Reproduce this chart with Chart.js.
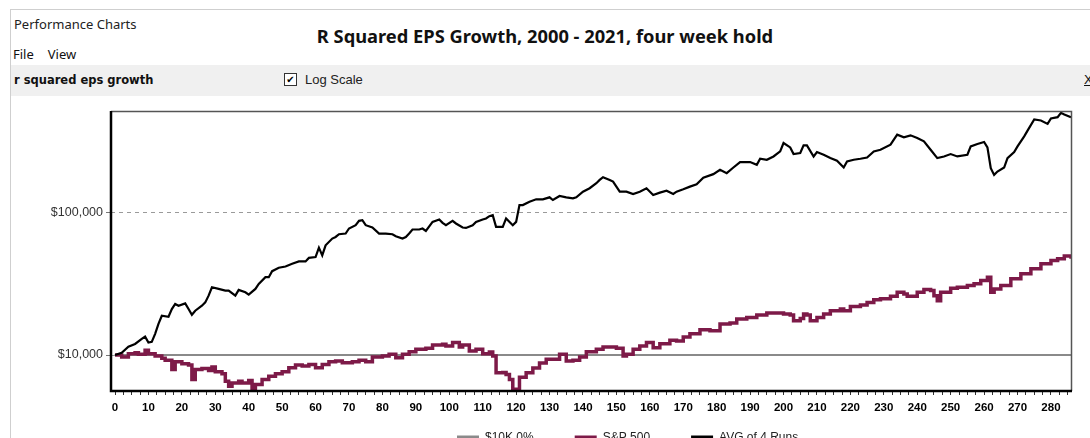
<!DOCTYPE html>
<html><head><meta charset="utf-8">
<script src="https://cdn.jsdelivr.net/npm/chart.js@4.4.0/dist/chart.umd.min.js"></script>
<style>
html,body{margin:0;padding:0;width:1090px;height:438px;overflow:hidden;background:#fff;}
#frameTop{position:absolute;left:10px;top:9px;width:1080px;height:1px;background:#cfcfcf;}
#frameLeft{position:absolute;left:10px;top:9px;width:1px;height:429px;background:#cfcfcf;}
#appTitle{position:absolute;left:14px;top:15px;font:13px "Noto Sans",sans-serif;color:#222;}
#menu{position:absolute;left:13px;top:45px;font:13px "Noto Sans",sans-serif;color:#111;}
#menu span{margin-right:14px;}
#chartTitle{position:absolute;left:0;width:1090px;text-align:center;top:23px;font:bold 18.3px "Noto Sans",sans-serif;color:#111;}
#toolbar{position:absolute;left:11px;top:65px;width:1079px;height:31px;background:#f0f0f0;}
#seriesName{position:absolute;left:3px;top:8px;font:bold 11.5px "DejaVu Sans",sans-serif;color:#111;}
#check{position:absolute;left:273px;top:8px;width:11px;height:11px;border:1px solid #333;background:#fff;font:bold 10px/11px "DejaVu Sans",sans-serif;text-align:center;color:#000;}
#logLabel{position:absolute;left:294px;top:7px;font:13px "Liberation Sans",Arial,sans-serif;color:#222;}
#closeX{position:absolute;left:1073px;top:7px;font:13px "Liberation Sans",Arial,sans-serif;text-decoration:underline;color:#111;}
#wrap{position:absolute;left:0;top:100px;width:1090px;height:384px;}
</style></head>
<body>
<div id="frameTop"></div><div id="frameLeft"></div>
<div id="appTitle">Performance Charts</div>
<div id="menu"><span>File</span><span>View</span></div>
<div id="chartTitle">R Squared EPS Growth, 2000 - 2021, four week hold</div>
<div id="toolbar">
  <div id="seriesName">r squared eps growth</div>
  <div id="check">✔</div>
  <div id="logLabel">Log Scale</div>
  <div id="closeX">X</div>
</div>
<div id="wrap"><canvas id="c" width="1090" height="384"></canvas></div>
<script>
// ---- data (4-week periods) ----
const seriesLabels = ['$10K 0%', 'S&P 500', 'AVG of 4 Runs'];

const basePeriods = [0, 286];
const baseValues  = [10000, 10000];

const avgPeriods = [0,2,4,6,8,9,10,11,12,13,14,16,17,18,19,21,22,23,24,26,27,28,29,31,33,34,36,37,39,40,42,43,45,46,47,49,51,53,55,57,58,60,61,62,63,65,66,67,69,70,72,73,74,75,77,79,81,83,84,86,87,88,89,91,92,93,95,97,98,99,101,102,104,105,107,108,110,111,112,113,114,116,117,119,120,121,122,124,126,128,130,131,133,135,137,138,140,142,144,145,146,148,149,151,153,155,157,159,161,163,165,167,168,170,172,174,176,179,181,183,185,187,190,192,193,195,197,199,200,202,203,205,206,207,209,210,212,214,216,218,219,221,223,225,227,229,232,234,236,238,240,242,244,246,248,250,252,255,256,258,260,261,262,263,264,266,267,269,270,272,273,275,277,279,280,282,283,284,286];
const avgValues = [10000,10380,11440,11950,12960,13450,12210,12350,14060,16530,18830,18520,20980,22750,22130,22980,20980,19130,20410,22130,23350,26030,29780,29020,28230,28230,26030,28550,27460,26460,29020,31470,35030,35030,38600,40790,41660,43520,45180,45180,47820,48440,56410,49800,58550,65270,66990,69990,70790,76790,81000,86850,87850,81000,78050,70790,70790,69990,67760,65270,66990,70790,75550,75550,76790,73840,85460,88850,84070,81000,86850,83260,78050,77530,81000,85460,88850,90300,93720,95260,78800,78800,90300,81000,85460,112000,112000,118200,122900,122900,126900,121500,129600,126900,124900,126900,139000,146900,159300,168000,175500,168000,163500,139000,139000,133900,139000,146900,131800,136800,141300,133900,139000,144500,150800,156700,174400,184400,197600,187300,205100,223900,223900,214300,236200,232400,245200,265900,304600,283700,254800,259000,293100,293100,245200,263300,252000,238900,228700,205100,226100,232400,236200,241200,265900,273400,296400,348500,333600,344500,330400,312600,273400,238900,245200,254800,245200,252000,288400,299900,309600,283700,203100,182200,192200,205100,238900,263300,288400,339200,371900,444600,437400,414500,451900,461500,495500,482000,461500];

const spPeriods = [0,2,4,6,7,9,10,12,14,15,17,18,20,22,23,24,26,28,29,30,32,33,34,35,37,38,40,41,42,44,46,48,50,52,54,56,58,60,62,64,66,68,71,73,75,77,80,82,84,86,88,90,93,95,98,99,101,103,104,106,108,110,112,113,114,116,117,118,119,121,123,125,127,129,131,133,135,137,139,141,144,146,148,150,152,153,155,157,159,161,163,166,168,170,172,175,178,181,184,186,189,192,195,197,200,202,203,205,206,207,208,210,212,214,217,218,220,223,225,227,229,232,234,236,237,240,242,244,245,246,247,250,252,255,257,259,261,262,263,265,268,271,274,277,280,282,284,286];
const spValues = [10000,9680,10210,10380,10110,10790,10210,9840,9480,9180,7930,8970,8690,8500,6740,7930,8060,7800,8230,7630,7380,6560,6050,6380,6560,6380,6640,5730,6220,6740,7110,7380,7630,8140,8500,8370,8600,8140,8600,8970,9080,8830,8970,9180,8970,9680,9840,10110,9570,10110,10550,10970,11150,11760,11900,11570,12210,11380,11760,10670,10970,10210,10500,9840,7510,7530,7310,6740,5760,7000,7510,8100,8780,9330,9330,10110,9080,9180,9680,10550,10970,11380,11380,11150,9840,10110,10970,11570,12210,11260,12010,12690,12550,13390,14060,15000,14760,16450,16720,17840,18310,19040,19660,19660,19340,19040,17360,18010,19340,19040,17360,18310,19340,20410,20980,20410,21890,22390,23350,24390,24790,25740,27460,26760,25740,27460,28690,28230,26030,24000,27460,29300,29780,30610,31470,33200,35030,27460,29020,30610,34130,37010,40130,43520,45920,47200,49240,47200];

const xLabelTicks = [0,10,20,30,40,50,60,70,80,90,100,110,120,130,140,150,160,170,180,190,200,210,220,230,240,250,260,270,280];
const xMinorStep = 2.5;
const yLabelTicks = [10000, 100000];

// ---- build ----
const toPts = (xs, ys) => xs.map((x, i) => ({x: x, y: ys[i]}));
const xTickValues = [];
for (let v = 0; v <= 285; v += xMinorStep) xTickValues.push(v);

const frame = {
  id: 'frame',
  afterDraw(chart) {
    const {ctx, chartArea: a} = chart;
    ctx.save();
    ctx.strokeStyle = '#555'; ctx.lineWidth = 1.5;
    ctx.beginPath();
    ctx.moveTo(a.left, a.top + 0.5); ctx.lineTo(a.right - 0.5, a.top + 0.5); ctx.lineTo(a.right - 0.5, a.bottom);
    ctx.stroke();
    ctx.strokeStyle = '#000'; ctx.lineWidth = 2.5;
    ctx.beginPath();
    ctx.moveTo(a.left, a.top); ctx.lineTo(a.left, a.bottom); ctx.lineTo(a.right, a.bottom);
    ctx.stroke();
    ctx.restore();
  }
};
const legendShift = {
  id: 'legendShift',
  afterLayout(chart) {
    const lg = chart.legend;
    const h = lg.height;
    lg.left = 416;
    lg.top = chart.chartArea.bottom;
    lg.bottom = lg.top + h;
  }
};

new Chart(document.getElementById('c'), {
  type: 'line',
  data: {
    datasets: [
      {label: seriesLabels[0], data: toPts(basePeriods, baseValues), borderColor: '#8a8a8a', backgroundColor: '#8a8a8a', borderWidth: 2, pointRadius: 0, order: 3},
      {label: seriesLabels[1], data: toPts(spPeriods, spValues), borderColor: '#7d1a48', backgroundColor: '#7d1a48', borderWidth: 3.5, pointRadius: 0, stepped: true, order: 2},
      {label: seriesLabels[2], data: toPts(avgPeriods, avgValues), borderColor: '#000', backgroundColor: '#000', borderWidth: 2.2, pointRadius: 0, order: 1}
    ]
  },
  options: {
    responsive: false, animation: false, devicePixelRatio: 1,
    layout: {padding: {left: 0, right: 18, top: 11, bottom: 0}},
    scales: {
      x: {
        type: 'linear', min: -1.2, max: 286.3,
        afterBuildTicks(s) { s.ticks = xTickValues.map(v => ({value: v})); },
        afterFit(s) { s.height = 30; },
        ticks: {autoSkip: false, maxRotation: 0, minRotation: 0, padding: 6, color: '#000',
          font: {family: 'Liberation Sans', size: 11.5, weight: 'bold'},
          callback: v => xLabelTicks.includes(v) ? String(v) : ''},
        grid: {drawOnChartArea: false, drawTicks: true, tickLength: 4, tickColor: '#333', tickWidth: 1},
        border: {display: false}
      },
      y: {
        type: 'logarithmic', min: 5600, max: 510000,
        afterBuildTicks(s) { s.ticks = yLabelTicks.map(v => ({value: v})); },
        afterFit(s) { s.width = 111; },
        ticks: {padding: 3, color: '#333', font: {family: 'Liberation Sans', size: 12.5},
          callback: v => '$' + Number(v).toLocaleString('en-US')},
        grid: {color: '#9a9a9a', lineWidth: 1, drawTicks: true, tickLength: 5, tickColor: '#777'},
        border: {display: false, dash: [4, 4]}
      }
    },
    plugins: {
      legend: {
        position: 'bottom', align: 'start',
        labels: {
          boxWidth: 22, boxHeight: 5, padding: 41, color: '#222',
          font: {family: 'Liberation Sans', size: 12},
          sort: (a, b) => a.datasetIndex - b.datasetIndex,
          generateLabels(chart) {
            const items = Chart.defaults.plugins.legend.labels.generateLabels(chart);
            items.forEach(it => { it.lineWidth = 0; });
            return items;
          }
        }
      },
      tooltip: {enabled: false}
    }
  },
  plugins: [frame, legendShift]
});
</script>
</body></html>
